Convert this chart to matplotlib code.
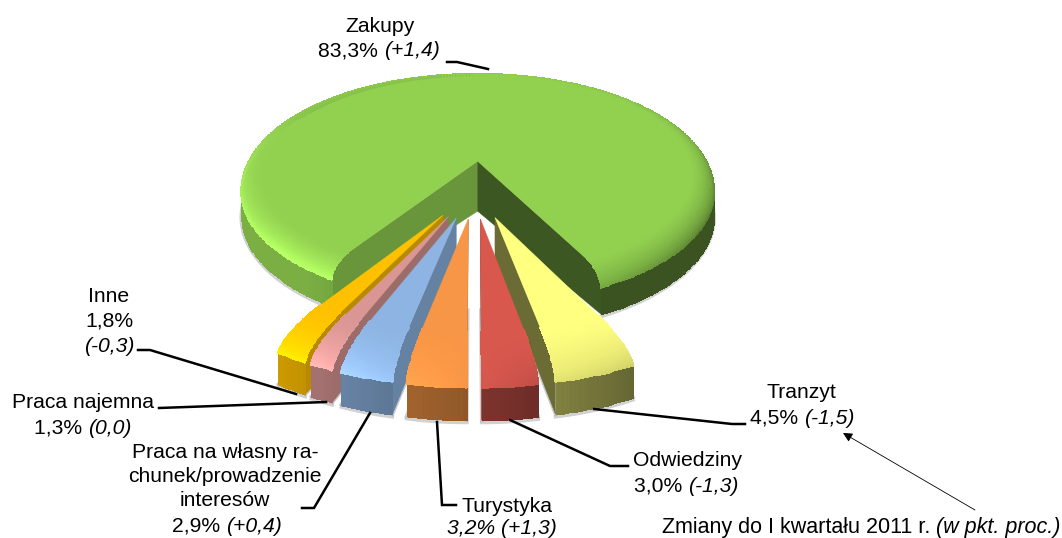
import numpy as np
import matplotlib
matplotlib.use("Agg")
import matplotlib.pyplot as plt

# ---- data -------------------------------------------------------------
categories = ["Tranzyt", "Odwiedziny", "Turystyka", "Praca na własny rachunek",
              "Praca najemna", "Inne", "Zakupy"]
shares = [4.5, 3.0, 3.2, 2.9, 1.3, 1.8, 83.3]
changes = [-1.5, -1.3, 1.3, 0.4, 0.0, -0.3, 1.4]
colors = ["#FFFF80", "#D9584E", "#F79646", "#8DB4E2", "#D99694", "#FFC000", "#92D050"]
draw_order = [6, 5, 4, 3, 0, 1, 2]

# ---- projection -------------------------------------------------------
W, H = 1062, 538
CX, CY, RX, TY, K = 474.5, 189.0, 243.0, 116.0, 0.16
EXPL = 0.25
START_DEG = 27.0
BIG = dict(r_flat=0.90, bevel=14.0, wall=24.0, apex=52.0)
SMALL = dict(r_flat=0.78, bevel=14.0, wall=26.0, apex=52.0)


def project(phi, r, z, off):
    """phi: degrees clockwise from the front; z measured below the top plane."""
    a = np.radians(phi)
    u = r * np.sin(a) + off[0]
    v = -r * np.cos(a) + off[1]
    d = 1 + K * v
    return CX + RX * u / d, CY - (TY * v - z) / d


def shade(base, f):
    return np.clip(np.asarray(matplotlib.colors.to_rgb(base)) * f, 0, 1)


def bevel_end(phi):
    p = (phi + 180) % 360 - 180
    return np.interp(p, [-180, -130, -90, -50, -25, -5, 10, 25, 60, 90, 130, 180],
                     [0.85, 0.92, 1.12, 1.30, 1.25, 1.05, 0.88, 0.82, 0.60, 0.55, 0.70, 0.85])


def side_f(phi):
    return np.clip(0.58 - 0.40 * np.sin(np.radians(phi)), 0.40, 0.84)


def draw_slice(ax, ph0, ph1, col, off, is_big):
    g = BIG if is_big else SMALL
    r_flat, bevel, wall, apex = g["r_flat"], g["bevel"], g["wall"], g["apex"]
    phis = np.linspace(ph0, ph1, max(6, int(abs(ph1 - ph0) * 1.2)))
    t = np.linspace(0, 1, 24)
    r_b = r_flat + (1 - r_flat) * np.sin(t * np.pi / 2)
    z_b = bevel * (1 - np.cos(t * np.pi / 2))
    bottom = bevel + wall

    # soft ground shadow around the footprint
    xs, ys = project(phis, np.ones_like(phis), bottom * np.ones_like(phis) + 2, off)
    ax.plot(xs, ys, color="#999999", lw=2.5, alpha=0.45, zorder=1.5)
    if not is_big:
        rr = np.linspace(0.35, 1, 10)
        for e in (ph0, ph1):
            xs, ys = project(e, rr, bottom + 0 * rr, off)
            ax.plot(xs, ys, color="#999999", lw=2.5, alpha=0.5, zorder=1.5)

    # radial inner faces
    pr = np.r_[0, r_b, 1, 0]
    pz = np.r_[0, z_b, bottom, apex if is_big else bottom]
    edges = [ph0, ph1] if is_big else ([ph1] if (ph0 + ph1) / 2 > 0 else [ph0])
    for e in edges:
        xs, ys = project(e, pr, pz, off)
        f = 0.42 if np.sin(np.radians(e)) > 0 else 0.72
        ax.fill(xs, ys, color=shade(col, f), lw=0.3, zorder=2)

    # outer side wall
    zs = np.array([bevel, bottom])
    P, Z = np.meshgrid(phis, zs, indexing="ij")
    X, Y = project(P, np.ones_like(P), Z, off)
    C = np.array([[shade(col, side_f(0.5 * (phis[i] + phis[i + 1])))]
                  for i in range(len(phis) - 1)])
    ax.pcolormesh(X, Y, C, shading="flat", edgecolors="face", linewidth=0.4, zorder=2)

    # bevel (outer to inner) then the flat top
    rr, zz = r_b[::-1], z_b[::-1]
    P, Ri = np.meshgrid(phis, np.arange(len(rr)), indexing="ij")
    X, Y = project(P, rr[Ri], zz[Ri], off)
    pm = 0.5 * (phis[:-1] + phis[1:])
    tm = 0.5 * (t[::-1][:-1] + t[::-1][1:])
    C = np.zeros((len(pm), len(tm), 3))
    for i, p in enumerate(pm):
        for j, tt in enumerate(tm):
            C[i, j] = shade(col, 1 + (bevel_end(p) - 1) * tt ** 1.5)
    ax.pcolormesh(X, Y, C, shading="flat", edgecolors="face", linewidth=0.3, zorder=2)
    xs, ys = project(phis, r_flat * np.ones_like(phis), 0 * phis, off)
    ax0, ay0 = project(0.0, 0.0, 0.0, off)
    ax.fill(np.r_[ax0, xs], np.r_[ay0, ys], color=col, lw=0.3, zorder=2)


fig = plt.figure(figsize=(W / 100, H / 100), dpi=100)
ax = fig.add_axes([0, 0, 1, 1])
ax.set_xlim(0, W)
ax.set_ylim(H, 0)
ax.axis("off")
plt.rcParams["font.family"] = ["Liberation Sans", "DejaVu Sans"]

total = sum(shares)
edges = START_DEG - np.r_[0, np.cumsum(shares)] / total * 360
for i in draw_order:
    p0, p1 = edges[i], edges[i + 1]
    big = shares[i] > 50
    mid = np.radians(0.5 * (p0 + p1))
    off = (EXPL * np.sin(mid), -EXPL * np.cos(mid))
    draw_slice(ax, p0, p1, colors[i], off, big)

# ---- labels -----------------------------------------------------------
FS = 15.2


def pct(v):
    return f"{v:.1f}%".replace(".", ",")


def chg(v):
    s = f"{v:+.1f}".replace(".", ",")
    if v == 0:
        s = "0,0"
    return f"({s})"


def label(x, y, text, **kw):
    kw.setdefault("ha", "center")
    kw.setdefault("fontsize", FS)
    ax.text(x, y, text, va="center", color="black", zorder=5, **kw)


def pair(x_split, y, i):
    label(x_split, y, pct(shares[i]) + " ", ha="right")
    label(x_split, y, chg(changes[i]), ha="left", style="italic")


label(380, 26, "Zakupy"); pair(384, 51, 6)
label(109, 296, "Inne"); label(109, 321, pct(shares[5])); label(109, 347, chg(changes[5]), style="italic")
label(83, 403, "Praca najemna"); pair(88, 428, 4)
label(225, 452, "Praca na własny ra-"); label(225, 477, "chunek/prowadzenie"); label(225, 501, "interesów")
pair(226, 526, 3)
label(507, 507, "Turystyka")
label(502, 528.5, pct(shares[2]) + " " + chg(changes[2]), style="italic")
label(687, 461, "Odwiedziny"); pair(688, 486, 1)
label(801, 392, "Tranzyt"); pair(804, 418, 0)
label(662, 527, "Zmiany do I kwartału 2011 r.", ha="left", fontsize=15.5)
label(936, 527, "(w pkt. proc.)", ha="left", style="italic", fontsize=15.5)

leaders = [
    [(447, 62), (457, 62), (488, 69)],
    [(138, 350), (150, 350), (296, 394)],
    [(159, 408), (326, 402)],
    [(302, 508), (314, 508), (370, 413)],
    [(437, 422), (442, 505), (456, 505)],
    [(510, 420), (610, 466), (628, 466)],
    [(594, 409), (732, 424), (745, 424)],
]
for pts in leaders:
    xs, ys = zip(*pts)
    ax.plot(xs, ys, color="black", lw=1.8, solid_joinstyle="miter", zorder=4)
ax.annotate("", xy=(843, 433), xytext=(975, 510),
            arrowprops=dict(arrowstyle="-|>", color="black", lw=0.6, mutation_scale=14,
                            shrinkA=0, shrinkB=0), zorder=4)

fig.savefig("out.png", dpi=100)
